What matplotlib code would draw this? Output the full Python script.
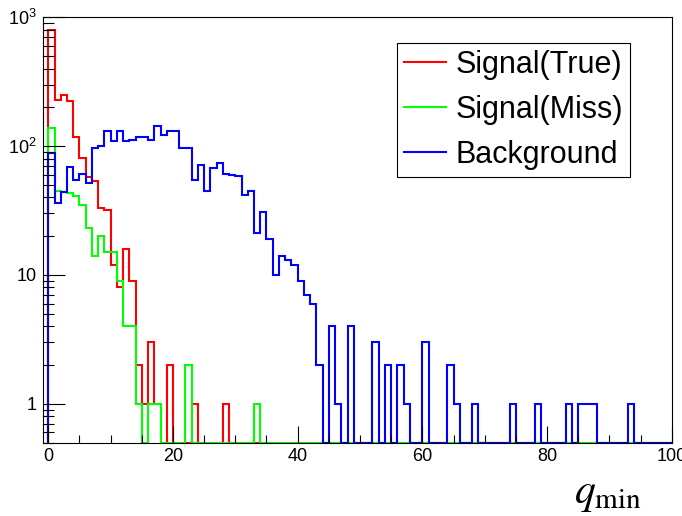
import numpy as np
import matplotlib
matplotlib.use("Agg")
import matplotlib.pyplot as plt
from matplotlib.ticker import FixedLocator, FixedFormatter, NullFormatter

plt.rcParams['font.family'] = ['Liberation Sans', 'DejaVu Sans']
plt.rcParams['mathtext.fontset'] = 'custom'
plt.rcParams['mathtext.rm'] = 'Liberation Sans'
plt.rcParams['mathtext.it'] = 'Liberation Sans:italic'

# ---------------- data (100 bins, 0..100) ----------------
bin_edges = np.arange(0, 101, 1)

signal_true = [800, 228, 248, 222, 117, 81, 58, 54, 33, 32,
               12, 8, 16, 9, 2, 1, 3, 1, 0, 2,
               0, 0, 0, 1, 0, 0, 0, 0, 1, 0] + [0] * 70

signal_miss = [138, 45, 44, 43, 41, 35, 23, 14, 20, 15,
               15, 9, 4, 4, 1, 0, 1, 1, 0, 0,
               0, 0, 2, 0, 0, 0, 0, 0, 0, 0,
               0, 0, 0, 1] + [0] * 66

background = [89, 36, 44, 69, 55, 61, 52, 96, 100, 130,
              109, 130, 109, 111, 118, 118, 111, 143, 123, 132,
              132, 96, 96, 55, 71, 45, 68, 74, 61, 60,
              59, 42, 45, 21, 31, 19, 10, 14, 13, 12,
              9, 7, 6, 2, 0, 4, 1, 0, 4, 0,
              0, 0, 3, 0, 2, 0, 2, 1, 0, 0,
              3, 0, 0, 0, 2, 1, 0, 0, 1, 0,
              0, 0, 0, 0, 1, 0, 0, 0, 1, 0,
              0, 0, 0, 1, 0, 1, 1, 1, 0, 0,
              0, 0, 0, 1, 0, 0, 0, 0, 0, 0]

series_labels = ["Signal(True)", "Signal(Miss)", "Background"]
series_colors = ["#ff0000", "#00ff00", "#0000ff"]

y_major = [1, 10, 100, 1000]
y_major_labels = ["1", "10", "10$^{2}$", "10$^{3}$"]
x_major = [0, 20, 40, 60, 80, 100]

YMIN, YMAX = 0.5, 1000
XMIN, XMAX = -0.8, 100

# ---------------- figure ----------------
fig = plt.figure(figsize=(6.82, 5.16), dpi=100)
ax = fig.add_axes([0.0635, 0.1424, 0.9849 - 0.0635, 0.9665 - 0.1424])

for vals, lab, col in zip([signal_true, signal_miss, background], series_labels, series_colors):
    v = np.asarray(vals, dtype=float)
    v = np.where(v > 0, v, YMIN)
    ax.stairs(v, bin_edges, baseline=YMIN, color=col, lw=1.5, label=lab)

ax.set_yscale('log')
ax.set_xlim(XMIN, XMAX)
ax.set_ylim(YMIN, YMAX)

ax.xaxis.set_major_locator(FixedLocator(x_major))
ax.xaxis.set_minor_locator(FixedLocator(np.arange(0, 101, 5)))
ax.yaxis.set_major_locator(FixedLocator(y_major))
ax.yaxis.set_major_formatter(FixedFormatter(y_major_labels))
minor_y = [m * 10.0 ** e for e in range(-1, 3) for m in range(2, 10) if YMIN <= m * 10.0 ** e <= YMAX]
ax.yaxis.set_minor_locator(FixedLocator(minor_y))
ax.yaxis.set_minor_formatter(NullFormatter())

ax.tick_params(axis='x', which='major', direction='in', length=12, width=0.8, labelsize=13, pad=4,
               top=False)
ax.tick_params(axis='x', which='minor', direction='in', length=6, width=0.8, top=False)
ax.tick_params(axis='y', which='major', direction='in', length=16, width=0.8, labelsize=13, pad=5,
               right=False)
ax.tick_params(axis='y', which='minor', direction='in', length=8, width=0.8, right=False)
for s in ax.spines.values():
    s.set_linewidth(0.8)
    s.set_color('black')

leg = ax.legend(loc='upper left', bbox_to_anchor=(396.7 / 682, 1 - 42.7 / 516),
                bbox_transform=fig.transFigure, fontsize=22, frameon=True, fancybox=False,
                edgecolor='black', framealpha=1, borderaxespad=0, borderpad=0.23,
                labelspacing=0.49, handlelength=1.37, handletextpad=0.32)
leg.get_frame().set_linewidth(0.8)
for line in leg.get_lines():
    line.set_linewidth(1.5)

fig.text(642 / 682, 1 - 503 / 516, r'$q_{\mathrm{min}}$', fontsize=30, ha='right', va='baseline',
         math_fontfamily='stix')

fig.savefig("out.png", dpi=100)
